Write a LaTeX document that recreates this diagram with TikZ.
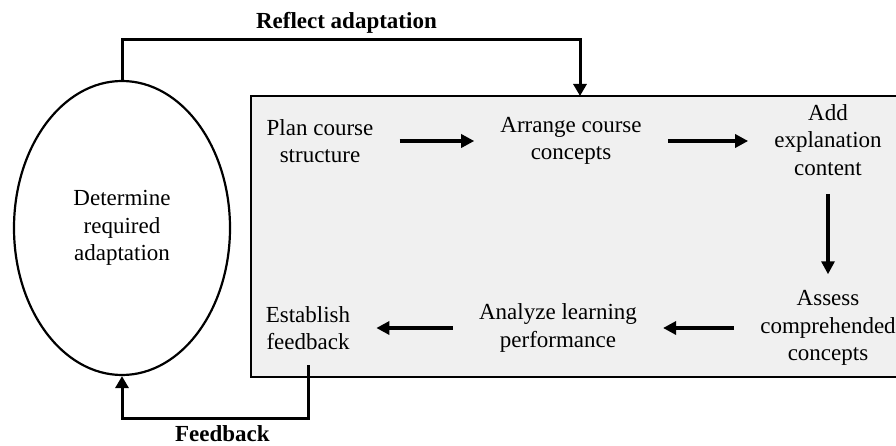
\documentclass[tikz,border=0pt]{standalone}
\usepackage{fontspec}
\setmainfont{Liberation Serif}
\usetikzlibrary{shapes.geometric,arrows.meta}
\begin{document}
\begin{tikzpicture}[x=1pt,y=-1pt]
    \tikzstyle{panel} = [draw, line width=2pt, fill=black!6, outer sep=0pt, inner sep=0pt]
    \tikzstyle{task} = [align=center, inner sep=0pt, font=\fontsize{23}{27.5}\selectfont]
    \tikzstyle{flow} = [line width=3.2pt, -{Triangle[length=13pt,width=13pt]}, shorten <=26pt, shorten >=26pt]
    \tikzstyle{feedline} = [line width=3pt, -{Triangle[length=12pt,width=13pt]}]
    \tikzstyle{heading} = [font=\fontsize{23}{27.5}\selectfont\bfseries, inner sep=5pt]
    \useasboundingbox (0,0) rectangle (896,446);
    \node[panel, anchor=north west, minimum width=647, minimum height=281] (panel) at (251,96) {};
    \node[task, draw, ellipse, line width=2.2pt, minimum width=216, minimum height=294] (adapt) at (122,228) {Determine\\required\\adaptation};
    \node[task] (plan) at (320,141) {Plan course\\structure};
    \node[task] (arrange) at (571,141) {Arrange course\\concepts};
    \node[task] (explain) at (828,140) {Add\\explanation\\content};
    \node[task] (assess) at (828,328) {Assess\\comprehended\\concepts};
    \node[task] (analyze) at (558,328) {Analyze learning\\performance};
    \node[task] (establish) at (308,328) {Establish\\feedback};
    \coordinate (reflectin) at (580,96);
    \draw[flow] (plan) -- (arrange);
    \draw[flow] (arrange.east) -- (arrange.east -| explain.west);
    \draw[flow, shorten <=18pt, shorten >=16pt] (explain) -- (assess);
    \draw[flow] (assess) -- (analyze);
    \draw[flow] (analyze) -- (establish);
    \draw[feedline] (adapt.north) -- ++(0,-40) -| node[heading, above, pos=0.245] {Reflect adaptation} (reflectin);
    \draw[feedline] ([yshift=-15pt]establish.south) -- ++(0,53) -| node[heading, below, pos=0.23, inner sep=6pt] {Feedback} (adapt.south);
\end{tikzpicture}
\end{document}
